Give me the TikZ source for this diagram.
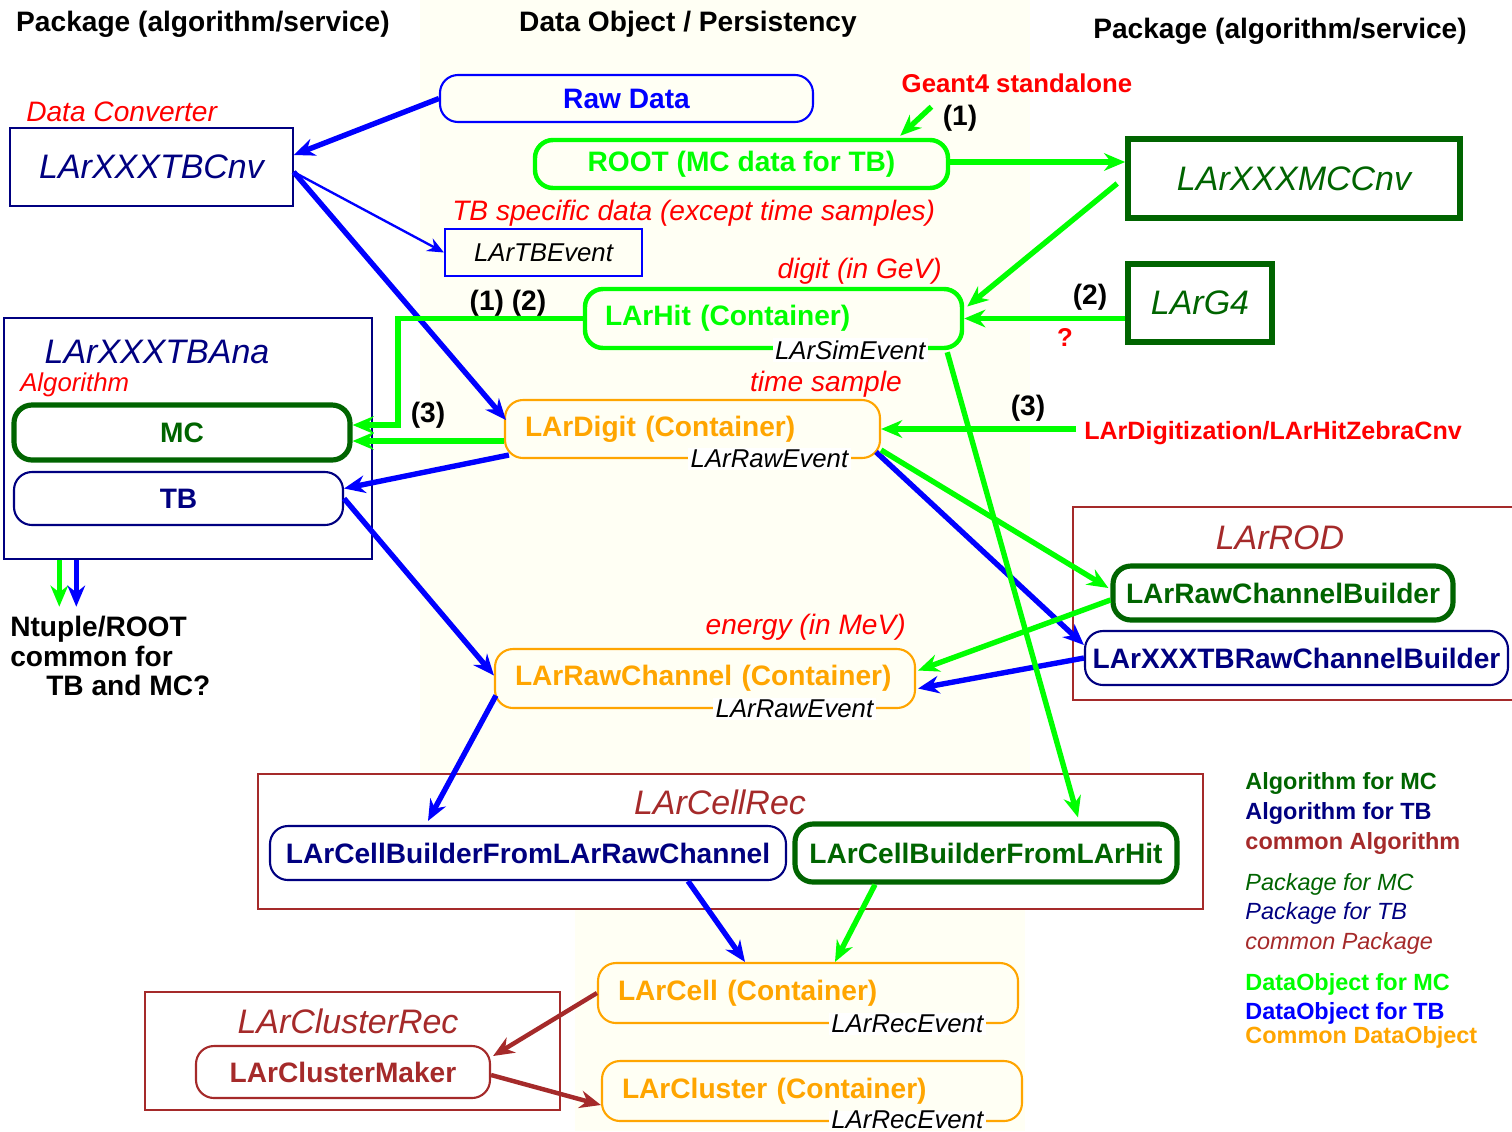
\documentclass[tikz,border=0pt]{standalone}
\usepackage{fontspec}
\setmainfont{Liberation Sans}
\usetikzlibrary{arrows.meta, calc}

\definecolor{mcdata}{RGB}{0,255,0}
\definecolor{tbdata}{RGB}{0,0,255}
\definecolor{comdata}{RGB}{255,165,0}
\definecolor{mcalg}{RGB}{0,100,0}
\definecolor{tbalg}{RGB}{0,0,128}
\definecolor{comalg}{RGB}{165,42,42}
\definecolor{notered}{RGB}{255,0,0}
\definecolor{cream}{RGB}{255,255,244}

\newlength{\pu}
\setlength{\pu}{0.015cm}

\begin{document}
\begin{tikzpicture}[
    x=0.015cm, y=-0.015cm,
    hdr/.style={font=\fontsize{12}{14}\selectfont\bfseries},
    note/.style={text=notered, font=\fontsize{12}{14}\selectfont\itshape},
    rednum/.style={text=notered, font=\fontsize{11}{13}\selectfont\bfseries},
    num/.style={font=\fontsize{12}{14}\selectfont\bfseries},
    pill/.style={draw, rounded corners=18\pu, inner sep=0pt, font=\fontsize{12}{14}\selectfont\bfseries},
    mcobj/.style={pill, draw=mcdata, text=mcdata, line width=1.9pt},
    tbobj/.style={pill, draw=tbdata, text=tbdata, line width=0.9pt},
    cont/.style={pill, draw=comdata, text=comdata, line width=0.9pt, align=left, inner xsep=20\pu, text width=#1},
    mcalgo/.style={pill, draw=mcalg, text=mcalg, line width=2.2pt},
    tbalgo/.style={pill, draw=tbalg, text=tbalg, line width=0.9pt},
    comalgo/.style={pill, draw=comalg, text=comalg, line width=0.9pt},
    pkg/.style={draw, rectangle, inner sep=0pt, font=\fontsize{14.5}{17}\selectfont\itshape},
    tbpkg/.style={pkg, draw=tbalg, text=tbalg, line width=0.6pt},
    mcpkg/.style={pkg, draw=mcalg, text=mcalg, line width=2.4pt},
    compkg/.style={pkg, draw=comalg, text=comalg, line width=0.6pt},
    title/.style={font=\fontsize{14.5}{17}\selectfont\itshape},
    store/.style={fill=white, inner sep=1pt, anchor=east, font=\fontsize{11}{13}\selectfont\itshape},
    arr/.style={-{Stealth[length=9pt, width=7.5pt]}, line width=2.3pt},
    barr/.style={arr, color=tbdata},
    garr/.style={arr, color=mcdata},
    rarr/.style={arr, color=comalg, line width=1.9pt},
    legend/.style={anchor=west, inner sep=0pt, font=\fontsize{10}{12}\selectfont\bfseries}
]
    \useasboundingbox (0,0) rectangle (1512,1131);
    % data object column
    \fill[cream] (420,0) rectangle (1030,774);
    \fill[cream] (575,909) rectangle (1025,1131);

    \node[hdr] (hdleft) at (203,24) {Package (algorithm/service)};
    \node[hdr] (hdmid) at (688,24) {Data Object / Persistency};
    \node[hdr] (hdright) at (1280,31) {Package (algorithm/service)};

    % converters
    \node[tbpkg, minimum width=283\pu, minimum height=78\pu] (tbcnv) at (151.5,167) {LArXXXTBCnv};
    \node[note, anchor=west] (convnote) at (18,112) {Data Converter};
    \node[pkg, draw=tbdata, line width=0.9pt, font=\fontsize{11}{13}\selectfont\itshape, minimum width=197\pu, minimum height=47\pu] (tbevent) at (543.5,252.5) {LArTBEvent};
    \node[note, anchor=west] (tbnote) at (444,213) {TB specific data (except time samples)};

    \node[tbobj, minimum width=373\pu, minimum height=47\pu] (rawdata) at (626.5,98.5) {Raw Data};
    \node[mcobj, minimum width=413\pu, minimum height=48\pu] (root) at (741.5,164) {ROOT (MC data for TB)};
    \node[rednum] (geant) at (1017,83) {Geant4 standalone};
    \node[num] (n1a) at (960,118) {(1)};
    \node[mcpkg, minimum width=332\pu, minimum height=79\pu] (mccnv) at (1294,178.5) {LArXXXMCCnv};

    % hits
    \node[mcobj, align=left, inner xsep=20\pu, text width=337\pu, minimum height=59\pu] (hit) at (773.5,318.5) {LArHit (Container)};
    \node[store] (simev) at ($(hit.south east)+(-36,0)$) {LArSimEvent};
    \node[note, anchor=east] (gevnote) at (950,271) {digit (in GeV)};
    \node[mcpkg, minimum width=144\pu, minimum height=78\pu] (g4) at (1200,303) {LArG4};
    \node[num] (n2a) at (1090,297) {(2)};
    \node[rednum] (qmark) at (1065,337) {?};
    \node[num] (n12) at (508,303) {(1) (2)};

    % analysis
    \node[tbpkg, minimum width=368\pu, minimum height=241\pu] (ana) at (188,438.5) {};
    \node[title, text=tbalg] (anatitle) at (157,352) {LArXXXTBAna};
    \node[note, anchor=west, font=\fontsize{11}{13}\selectfont\itshape] (algnote) at (12,385) {Algorithm};
    \node[mcalgo, minimum width=336\pu, minimum height=55\pu] (mc) at (182,432.5) {MC};
    \node[tbalgo, minimum width=329\pu, minimum height=53\pu] (tb) at (178.5,498.5) {TB};
    \node[anchor=north west, align=left, font=\fontsize{12}{12.6}\selectfont\bfseries] (ntuple) at (2,608) {Ntuple/ROOT\\common for\\\hspace*{0.54cm}TB and MC?};
    \node[num] (n3b) at (428,415) {(3)};

    % digits
    \node[cont=335\pu, minimum height=58\pu] (digit) at (692.5,429) {LArDigit (Container)};
    \node[store] (rawev1) at ($(digit.south east)+(-30,0)$) {LArRawEvent};
    \node[note, anchor=east] (tsnote) at (910,384) {time sample};
    \node[rednum, anchor=west, font=\fontsize{10.7}{13}\selectfont\bfseries] (digi) at (1076,433) {LArDigitization/LArHitZebraCnv};
    \node[num] (n3a) at (1028,408) {(3)};

    % raw channels
    \node[cont=380\pu, minimum height=59\pu] (rawch) at (705,678.5) {LArRawChannel (Container)};
    \node[store] (rawev2) at ($(rawch.south east)+(-40,0)$) {LArRawEvent};
    \node[note, anchor=east] (mevnote) at (914,627) {energy (in MeV)};

    \node[compkg, minimum width=447\pu, minimum height=193\pu] (rod) at (1296.5,603.5) {};
    \node[title, text=comalg] (rodtitle) at (1280,538) {LArROD};
    \node[mcalgo, minimum width=340\pu, minimum height=54\pu] (rcb) at (1283,593) {LArRawChannelBuilder};
    \node[tbalgo, minimum width=423\pu, minimum height=54\pu] (tbrcb) at (1296.5,658) {LArXXXTBRawChannelBuilder};

    % cells
    \node[compkg, minimum width=945\pu, minimum height=135\pu] (cellrec) at (730.5,841.5) {};
    \node[title, text=comalg] (celltitle) at (720,802) {LArCellRec};
    \node[tbalgo, minimum width=516\pu, minimum height=54\pu] (cbraw) at (528,853) {LArCellBuilderFromLArRawChannel};
    \node[mcalgo, minimum width=382\pu, minimum height=58\pu] (cbhit) at (986,853) {LArCellBuilderFromLArHit};

    \node[cont=380\pu, minimum height=60\pu] (cell) at (808,993) {LArCell (Container)};
    \node[store] (recev1) at ($(cell.south east)+(-33,0)$) {LArRecEvent};
    \node[cont=380\pu, minimum height=60\pu] (cluster) at (812,1091) {LArCluster (Container)};
    \node[store, inner ysep=0pt] (recev2) at ($(cluster.south east)+(-37,-2)$) {LArRecEvent};

    \node[compkg, minimum width=415\pu, minimum height=118\pu] (clrec) at (352.5,1051) {};
    \node[title, text=comalg] (cltitle) at (348,1021) {LArClusterRec};
    \node[comalgo, minimum width=294\pu, minimum height=52\pu] (clmaker) at (343,1072) {LArClusterMaker};

    % legend
    \node[legend, text=mcalg] (lg1) at (1245,783) {Algorithm for MC};
    \node[legend, text=tbalg] (lg2) at (1245,813) {Algorithm for TB};
    \node[legend, text=comalg] (lg3) at (1245,843) {common Algorithm};
    \node[legend, text=mcalg, font=\fontsize{10}{12}\selectfont\itshape] (lg4) at (1245,884) {Package for MC};
    \node[legend, text=tbalg, font=\fontsize{10}{12}\selectfont\itshape] (lg5) at (1245,913) {Package for TB};
    \node[legend, text=comalg, font=\fontsize{10}{12}\selectfont\itshape] (lg6) at (1245,943) {common Package};
    \node[legend, text=mcdata] (lg7) at (1245,984) {DataObject for MC};
    \node[legend, text=tbdata] (lg8) at (1245,1013) {DataObject for TB};
    \node[legend, text=comdata] (lg9) at (1245,1037) {Common DataObject};

    % TB chain
    \draw[barr] (rawdata.west) -- ($(tbcnv.east)+(0,-12)$);
    \draw[barr, line width=1pt, -{Stealth[length=7pt, width=6pt]}] ($(tbcnv.east)+(0,5)$) -- (tbevent.west);
    \draw[barr] ($(tbcnv.east)+(0,5)$) -- ($(digit.west)+(2,-9)$);
    \draw[barr] ($(digit.west)+(5,26)$) -- ($(tb.east)+(0,-10)$);
    \draw[barr] (tb.east) -- ($(rawch.west)+(0,-3)$);
    \draw[barr] ($(digit.east)+(-5,23)$) -- ($(tbrcb.west)+(0,-13)$);
    \draw[barr] (tbrcb.west) -- ($(rawch.east)+(2,10)$);
    \draw[barr] ($(rawch.west)+(2,17)$) -- ($(cbraw.north)+(-100,-4)$);
    \draw[barr] ($(cbraw.south)+(160,0)$) -- ($(cell.north)+(-63,0)$);

    % MC chain
    \draw[garr] ($(geant.south west)+(38,6)$) -- ($(root.north east)+(-50,-2)$);
    \coordinate (rootright) at ($(root.east)+(0,-2)$);
    \draw[garr] (rootright) -- (rootright -| mccnv.west);
    \draw[garr] ($(mccnv.west)+(-8,5)$) -- ($(hit.east)+(3,-12)$);
    \draw[garr] (g4.west |- hit.east) -- (hit.east);
    \coordinate (hitbend) at (398,425);
    \draw[garr] (hit.west) -| (hitbend) -- (hitbend -| mc.east);
    \coordinate (digleft) at ($(digit.west)+(0,12)$);
    \draw[garr] (digleft) -- (digleft -| mc.east);
    \draw[garr] (digi.west |- digit.east) -- (digit.east);
    \draw[garr] ($(digit.east)+(0,21)$) -- ($(rcb.west)+(-2,-5)$);
    \draw[garr] ($(rcb.west)+(0,7)$) -- ($(rawch.east)+(2,-8)$);
    \draw[garr] ($(hit.south east)+(-17,2)$) -- ($(cbhit.north)+(92,-4)$);
    \draw[garr] ($(cbhit.south)+(-111,0)$) -- ($(cell.north)+(27,0)$);

    % ntuple output
    \draw[garr] ($(ana.south west)+(56,0)$) -- ($(ana.south west)+(56,47)$);
    \draw[barr] ($(ana.south west)+(73,0)$) -- ($(ana.south west)+(73,47)$);

    % clusters
    \draw[rarr] (cell.west) -- ($(clmaker.east)+(2,-16)$);
    \draw[rarr] ($(clmaker.east)+(0,3)$) -- ($(cluster.west)+(0,14)$);
\end{tikzpicture}
\end{document}
